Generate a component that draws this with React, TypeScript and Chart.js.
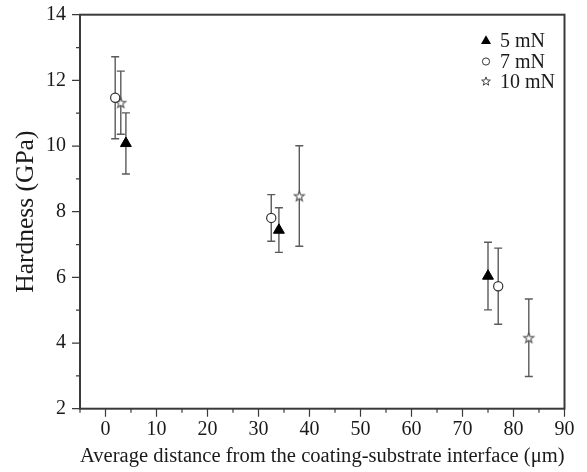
import React, { useEffect, useRef } from 'react';
import { Chart, registerables } from 'chart.js';

Chart.register(...registerables);

const seriesNames = ['5 mN', '7 mN', '10 mN'];

const distance5 = [4.0, 34.0, 75.0];
const hardness5 = [10.08, 7.44, 6.04];
const error5 = [0.93, 0.68, 1.03];

const distance7 = [1.9, 32.5, 77.0];
const hardness7 = [11.47, 7.81, 5.73];
const error7 = [1.25, 0.71, 1.16];

const distance10 = [3.0, 38.0, 83.0];
const hardness10 = [11.32, 8.48, 4.16];
const error10 = [0.96, 1.53, 1.18];

const xTickValues = [-5, 0, 5, 10, 15, 20, 25, 30, 35, 40, 45, 50, 55, 60, 65, 70, 75, 80, 85, 90];
const xMajorLabels = [0, 10, 20, 30, 40, 50, 60, 70, 80, 90];
const yTickValues = [2, 3, 4, 5, 6, 7, 8, 9, 10, 11, 12, 13, 14];
const yMajorLabels = [2, 4, 6, 8, 10, 12, 14];

const FONT = '"Liberation Serif", "Times New Roman", serif';
const AXIS_COLOR = '#3a3a3a';

function starPath(ctx: CanvasRenderingContext2D, cx: number, cy: number, ro: number, ri: number) {
  ctx.beginPath();
  for (let i = 0; i < 10; i++) {
    const r = i % 2 === 0 ? ro : ri;
    const a = -Math.PI / 2 + (i * Math.PI) / 5;
    const px = cx + r * Math.cos(a);
    const py = cy + r * Math.sin(a);
    if (i === 0) ctx.moveTo(px, py);
    else ctx.lineTo(px, py);
  }
  ctx.closePath();
}

function makeStarImage(ro: number, ri: number) {
  const size = Math.ceil(ro * 2 + 4);
  const c = document.createElement('canvas');
  c.width = size;
  c.height = size;
  const ctx = c.getContext('2d')!;
  starPath(ctx, size / 2, size / 2 + 0.5, ro, ri);
  ctx.fillStyle = '#ffffff';
  ctx.fill();
  ctx.strokeStyle = '#555555';
  ctx.lineWidth = 1.1;
  ctx.stroke();
  return c;
}

const errorBarPlugin = {
  id: 'errorBars',
  beforeDatasetsDraw(chart: any) {
    const ctx = chart.ctx;
    const y = chart.scales.y;
    ctx.save();
    ctx.strokeStyle = '#5a5a5a';
    ctx.lineWidth = 1.4;
    chart.data.datasets.forEach((ds: any, di: number) => {
      const meta = chart.getDatasetMeta(di);
      ds.errors.forEach((err: number, i: number) => {
        const pt = meta.data[i];
        const v = ds.data[i].y;
        const yt = y.getPixelForValue(v + err);
        const yb = y.getPixelForValue(v - err);
        const cap = 4;
        ctx.beginPath();
        ctx.moveTo(pt.x, yt);
        ctx.lineTo(pt.x, yb);
        ctx.moveTo(pt.x - cap, yt);
        ctx.lineTo(pt.x + cap, yt);
        ctx.moveTo(pt.x - cap, yb);
        ctx.lineTo(pt.x + cap, yb);
        ctx.stroke();
      });
    });
    ctx.restore();
  },
};

const frameAndTicksPlugin = {
  id: 'frameTicks',
  afterDraw(chart: any) {
    const ctx = chart.ctx;
    const { left, right, top, bottom } = chart.chartArea;
    const xs = chart.scales.x;
    const ys = chart.scales.y;
    ctx.save();
    ctx.strokeStyle = AXIS_COLOR;
    ctx.lineWidth = 1.2;
    ctx.beginPath();
    xTickValues.forEach((v) => {
      const px = xs.getPixelForValue(v);
      const len = v % 10 === 0 ? 8 : 4;
      ctx.moveTo(px, bottom);
      ctx.lineTo(px, bottom + len);
    });
    yTickValues.forEach((v) => {
      const py = ys.getPixelForValue(v);
      const len = v % 2 === 0 ? 8 : 4;
      ctx.moveTo(left, py);
      ctx.lineTo(left - len, py);
    });
    ctx.stroke();
    ctx.lineWidth = 2;
    ctx.strokeRect(left, top, right - left, bottom - top);
    ctx.restore();
  },
};

const legendPlugin = {
  id: 'insideLegend',
  afterDraw(chart: any) {
    const ctx = chart.ctx;
    const mx = 486;
    const tx = 500;
    const rows = [41, 61.5, 81.5];
    ctx.save();
    ctx.font = `20px ${FONT}`;
    ctx.fillStyle = '#1a1a1a';
    ctx.textBaseline = 'middle';
    ctx.textAlign = 'left';
    seriesNames.forEach((name, i) => {
      const cy = rows[i];
      if (i === 0) {
        const r = 5.8;
        ctx.beginPath();
        ctx.moveTo(mx, cy - r);
        ctx.lineTo(mx + r * 0.866, cy + r * 0.5);
        ctx.lineTo(mx - r * 0.866, cy + r * 0.5);
        ctx.closePath();
        ctx.fillStyle = '#000000';
        ctx.fill();
      } else if (i === 1) {
        ctx.beginPath();
        ctx.arc(mx, cy, 3.6, 0, Math.PI * 2);
        ctx.strokeStyle = '#333333';
        ctx.lineWidth = 1;
        ctx.stroke();
      } else {
        starPath(ctx, mx, cy, 4.6, 1.9);
        ctx.strokeStyle = '#444444';
        ctx.lineWidth = 1;
        ctx.stroke();
      }
      ctx.fillStyle = '#1a1a1a';
      ctx.fillText(name, tx, cy + 1);
    });
    ctx.restore();
  },
};

export default function App() {
  const ref = useRef<HTMLCanvasElement | null>(null);

  useEffect(() => {
    if (!ref.current) return;
    const starImg = makeStarImage(5.3, 2.2);
    const toPts = (xs: number[], ys: number[]) => xs.map((x, i) => ({ x, y: ys[i] }));

    const chart = new Chart(ref.current, {
      type: 'scatter',
      data: {
        datasets: [
          {
            label: seriesNames[0],
            data: toPts(distance5, hardness5),
            errors: error5,
            pointStyle: 'triangle',
            pointRadius: 6.3,
            backgroundColor: '#000000',
            borderColor: '#000000',
            borderWidth: 1,
          } as any,
          {
            label: seriesNames[1],
            data: toPts(distance7, hardness7),
            errors: error7,
            pointStyle: 'circle',
            pointRadius: 4.6,
            backgroundColor: '#ffffff',
            borderColor: '#333333',
            borderWidth: 1.2,
          } as any,
          {
            label: seriesNames[2],
            data: toPts(distance10, hardness10),
            errors: error10,
            pointStyle: starImg,
            pointRadius: 6,
            backgroundColor: '#ffffff',
            borderColor: '#555555',
          } as any,
        ],
      },
      options: {
        animation: false,
        responsive: false,
        devicePixelRatio: 1,
        layout: { padding: { top: 14.7, right: 22.5, left: 0, bottom: 0 } },
        plugins: {
          legend: { display: false },
          tooltip: { enabled: false },
        },
        scales: {
          x: {
            type: 'linear',
            min: -5,
            max: 90,
            afterBuildTicks: (scale: any) => {
              scale.ticks = xTickValues.map((v) => ({ value: v }));
            },
            afterFit: (scale: any) => {
              scale.height = 63.3;
              scale.paddingLeft = 0;
              scale.paddingRight = 0;
            },
            ticks: {
              padding: 9,
              maxRotation: 0,
              autoSkip: false,
              color: '#1a1a1a',
              font: { family: FONT, size: 20 },
              callback: (v: any) => (xMajorLabels.includes(Number(v)) ? String(v) : ''),
            },
            grid: { display: false, drawTicks: false },
            border: { display: false },
            title: {
              display: true,
              text: 'Average distance from the coating-substrate interface (μm)',
              color: '#1a1a1a',
              font: { family: FONT, size: 21.3 },
              padding: { top: 0, bottom: 3 },
            },
          },
          y: {
            type: 'linear',
            min: 2,
            max: 14,
            afterBuildTicks: (scale: any) => {
              scale.ticks = yTickValues.map((v) => ({ value: v }));
            },
            afterFit: (scale: any) => {
              scale.width = 80;
              scale.paddingTop = 0;
              scale.paddingBottom = 0;
            },
            ticks: {
              padding: 14,
              autoSkip: false,
              color: '#1a1a1a',
              font: { family: FONT, size: 20 },
              callback: (v: any) => (yMajorLabels.includes(Number(v)) ? String(v) : ''),
            },
            grid: { display: false, drawTicks: false },
            border: { display: false },
            title: {
              display: true,
              text: 'Hardness (GPa)',
              color: '#1a1a1a',
              font: { family: FONT, size: 25.5 },
              padding: { top: 11, bottom: 0 },
            },
          },
        },
      },
      plugins: [errorBarPlugin, frameAndTicksPlugin, legendPlugin],
    } as any);

    return () => chart.destroy();
  }, []);

  return (
    <div style={{ position: 'fixed', left: 0, top: 0, width: 587, height: 472, background: '#ffffff' }}>
      <canvas ref={ref} width={587} height={472} style={{ display: 'block', width: 587, height: 472 }} />
    </div>
  );
}
